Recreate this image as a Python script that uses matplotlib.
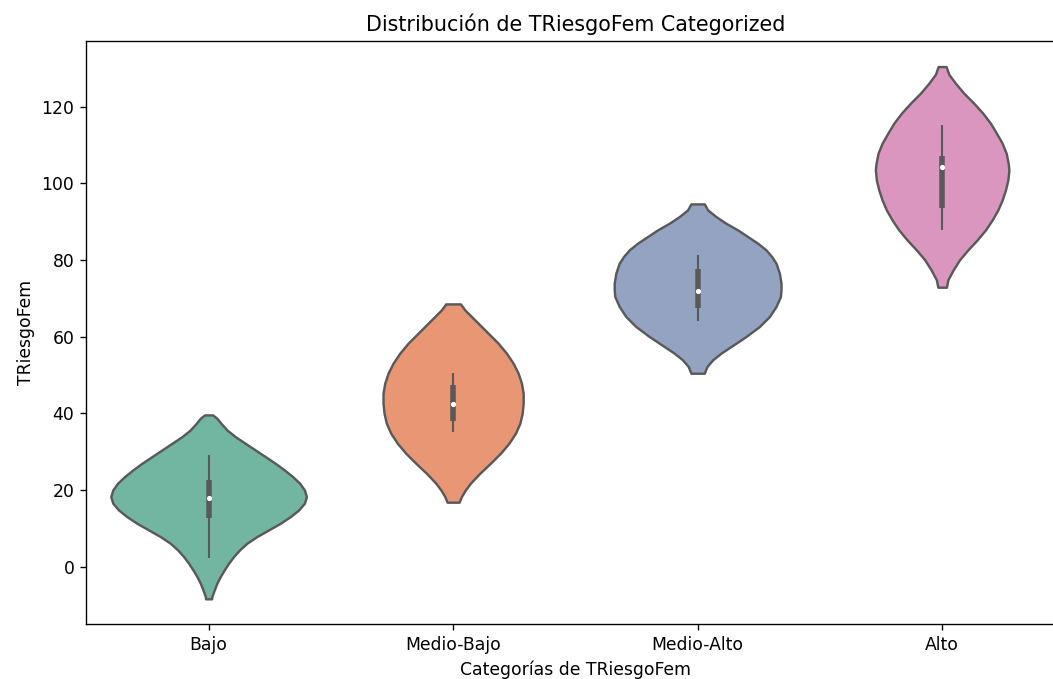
import numpy as np
import seaborn as sns
import matplotlib
matplotlib.use("Agg")
import matplotlib.pyplot as plt

# categorías y colores (Set2 desaturado como seaborn)
categorias = ["Bajo", "Medio-Bajo", "Medio-Alto", "Alto"]
colores = sns.color_palette("Set2", 4, desat=0.75)
gris = "#595959"

# perfiles de densidad (valor, densidad relativa)
bajo_y = [39.55, 38.68, 37.38, 35.64, 33.87, 32.13, 30.40, 28.66, 26.92, 25.19,
          23.45, 21.72, 19.98, 18.24, 16.51, 14.77, 13.03, 11.29, 9.56, 7.82,
          6.08, 4.35, 2.61, 0.87, -0.86, -2.60, -4.34, -6.08, -7.82, -8.43]
bajo_d = [4.0, 8.3, 12.3, 18.3, 26.7, 36.7, 46.7, 56.7, 66.7, 75.7,
          84.0, 91.0, 95.7, 97.7, 95.7, 90.0, 81.7, 71.7, 60.0, 48.3,
          38.3, 31.0, 25.0, 20.0, 15.7, 11.7, 8.3, 5.7, 3.3, 3.0]

mbajo_y = [68.51, 66.95, 65.22, 63.48, 60.87, 58.26, 55.65, 53.04, 50.43, 47.82,
           45.21, 42.60, 40.00, 37.39, 34.78, 32.16, 29.55, 26.95, 24.34, 21.74,
           20.00, 18.26, 16.78]
mbajo_d = [7.3, 11.7, 18.3, 25.0, 35.0, 45.0, 53.3, 60.0, 65.0, 68.3,
           70.0, 70.0, 69.0, 66.7, 62.3, 55.7, 47.3, 37.3, 26.7, 17.3,
           12.3, 8.3, 6.0]

malto_y = [94.60, 93.04, 91.30, 89.56, 87.82, 86.09, 84.35, 82.61, 80.87, 79.13,
           76.52, 73.91, 72.17, 70.43, 67.83, 65.22, 62.61, 60.00, 57.39, 55.65,
           53.91, 52.17, 50.43]
malto_d = [6.7, 10.0, 18.3, 28.3, 40.0, 50.0, 60.0, 68.3, 74.0, 78.3,
           81.7, 83.3, 83.3, 82.7, 78.3, 71.7, 61.7, 48.3, 33.3, 23.3,
           15.0, 9.3, 6.7]

alto_y = [130.43, 128.41, 126.09, 123.48, 120.87, 118.26, 115.65, 113.04, 110.43, 107.82,
          105.21, 103.48, 100.87, 98.26, 95.65, 93.04, 90.43, 87.82, 85.21, 82.61,
          80.00, 77.39, 74.78, 72.87]
alto_d = [4.0, 6.7, 13.3, 21.7, 31.7, 40.7, 48.3, 54.3, 60.0, 64.0,
          66.0, 66.7, 65.7, 63.3, 60.0, 55.7, 50.0, 43.3, 35.0, 25.7,
          17.3, 11.0, 5.7, 4.3]

# caja interior: bigote inferior, Q1, mediana, Q3, bigote superior
bigote_inf = [2.2, 35.1, 64.1, 87.8]
q1 = [12.7, 38.0, 67.4, 93.5]
mediana = [18.0, 42.4, 72.0, 104.2]
q3 = [22.5, 47.3, 77.6, 107.1]
bigote_sup = [29.2, 50.4, 81.3, 115.2]

perfiles = [(bajo_y, bajo_d), (mbajo_y, mbajo_d), (malto_y, malto_d), (alto_y, alto_d)]

DPI = 124
fig = plt.figure(figsize=(1053 / DPI, 679 / DPI), dpi=DPI)
ax = fig.add_axes([0.0820, 0.0810, 0.9288, 0.8586])

# escala "area": todas las densidades comparten el mismo máximo
dmax = max(max(d) for _, d in perfiles)
stats = []
anchos = []
for i, (ys, ds) in enumerate(perfiles):
    stats.append(dict(coords=np.array(ys), vals=np.array(ds),
                      mean=mediana[i], median=mediana[i],
                      min=min(ys), max=max(ys)))
    anchos.append(0.8 * max(ds) / dmax)

pos = np.arange(len(categorias))
partes = ax.violin(stats, positions=pos, widths=anchos, showextrema=False)
for cuerpo, c in zip(partes["bodies"], colores):
    cuerpo.set_facecolor(c)
    cuerpo.set_edgecolor(gris)
    cuerpo.set_linewidth(1.4)
    cuerpo.set_alpha(1)

ax.vlines(pos, bigote_inf, bigote_sup, color=gris, lw=1.2, zorder=3)
ax.vlines(pos, q1, q3, color=gris, lw=3.2, zorder=3)
ax.plot(pos, mediana, "o", color="white", ms=2.0, zorder=4)

ax.set_xlim(-0.5, 3.5)
ax.set_ylim(-15, 137.1)
ax.set_xticks(pos)
ax.set_xticklabels(categorias)
ax.set_yticks([0, 20, 40, 60, 80, 100, 120])
ax.set_title("Distribución de TRiesgoFem Categorized")
ax.set_xlabel("Categorías de TRiesgoFem")
ax.set_ylabel("TRiesgoFem")

fig.savefig("out.png", dpi=DPI)
